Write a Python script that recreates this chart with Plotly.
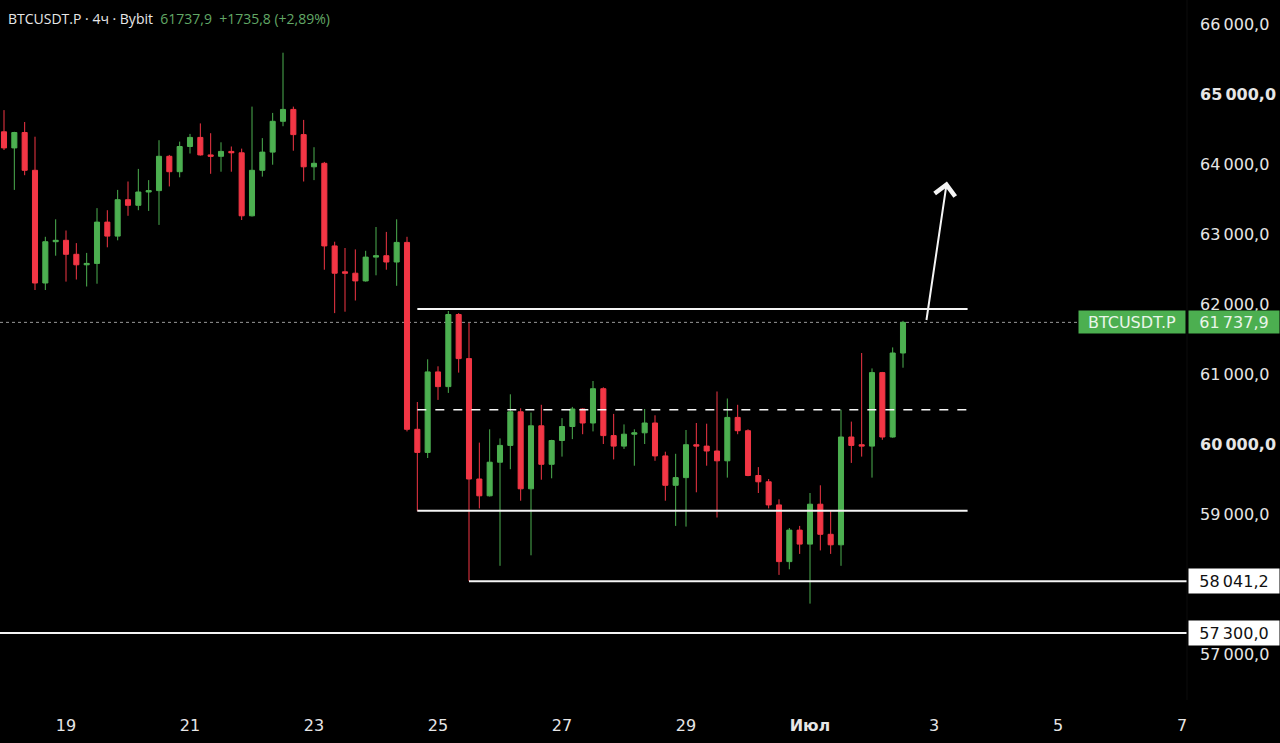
import datetime
import pandas as pd
import plotly.graph_objects as go

# 4h candles, Bybit BTCUSDT.P
start_time = '2024-06-18 00:00'
opens = [64460, 64230, 64450, 63910, 62300, 62890, 62910, 62710, 62560, 62580,
         63170, 62970, 63490, 63410, 63600, 63620, 64110, 63890, 64250, 64380,
         64130, 64110, 64180, 64160, 63260, 63910, 64170, 64610, 64780, 64420,
         63960, 64010, 62830, 62460, 62440, 62330, 62670, 62690, 62600, 62880,
         60210, 59880, 61030, 60820, 61850, 61220, 59500, 59260, 59740, 59980,
         60460, 59360, 60260, 59710, 60050, 60250, 60500, 60300, 60790, 60120,
         59970, 60140, 60160, 60300, 59830, 59410, 59520, 59990, 59970, 59900,
         59760, 60380, 60190, 59550, 59460, 59130, 58320, 58770, 58570, 59140,
         58710, 58560, 60100, 59990, 59970, 61020, 60100, 61300]
highs = [64770, 64460, 64600, 64390, 62960, 63210, 63050, 62870, 62730, 63370,
         63340, 63630, 63750, 63930, 63770, 64340, 64130, 64320, 64430, 64580,
         64440, 64310, 64250, 64220, 64820, 64370, 64730, 65590, 64820, 64630,
         64240, 64030, 62890, 62800, 62780, 62760, 63100, 63030, 63210, 62960,
         60600, 61210, 61110, 61900, 61870, 61730, 60020, 60210, 60080, 60710,
         60510, 60450, 60560, 60060, 60370, 60530, 60510, 60900, 60810, 60430,
         60280, 60210, 60500, 60410, 59890, 59860, 60200, 60300, 60290, 60750,
         60650, 60560, 60210, 59670, 59500, 59210, 58800, 58830, 59300, 59410,
         59050, 60490, 60320, 61300, 61080, 61030, 61380, 61760]
lows = [64200, 63630, 63840, 62200, 62200, 62690, 62320, 62350, 62250, 62290,
        62810, 62910, 63260, 63340, 63330, 63130, 63680, 63810, 64150, 64120,
        63860, 63890, 63890, 63200, 63250, 63820, 63990, 64540, 64190, 63750,
        63770, 62490, 61870, 61890, 62050, 62320, 62410, 62490, 62260, 60180,
        59040, 59800, 60630, 60730, 61020, 58041.2, 59080, 59250, 58260, 59640,
        59190, 58410, 59490, 59510, 59820, 60070, 60140, 60180, 60000, 59780,
        59930, 59690, 60000, 59760, 59190, 58830, 58820, 59310, 59690, 58950,
        59520, 60140, 59540, 59300, 59080, 58130, 58210, 58430, 57720, 58480,
        58430, 58260, 59730, 59820, 59520, 60060, 60090, 61090]
closes = [64230, 64450, 63910, 62300, 62890, 62910, 62710, 62560, 62580, 63170,
          62970, 63490, 63410, 63600, 63620, 64110, 63890, 64250, 64380, 64130,
          64110, 64180, 64160, 63260, 63910, 64170, 64610, 64780, 64420, 63960,
          64010, 62830, 62440, 62440, 62330, 62670, 62690, 62600, 62880, 60210,
          59880, 61030, 60820, 61850, 61220, 59500, 59260, 59740, 59980, 60460,
          59360, 60260, 59710, 60050, 60250, 60500, 60300, 60790, 60120, 59970,
          60140, 60160, 60300, 59830, 59410, 59520, 59990, 59970, 59900, 59760,
          60380, 60190, 59550, 59460, 59130, 58320, 58770, 58570, 59140, 58710,
          58560, 60100, 59980, 59970, 61020, 60100, 61300, 61737.9]

last_price = 61737.9

# drawn levels
range_top = 61930
range_mid = 60490
range_bottom = 59045
sweep_low = 58041.2
support = 57300
range_start = '2024-06-24 16:00'
range_end = '2024-07-03 13:00'
sweep_start = '2024-06-25 12:00'
arrow_tail = ('2024-07-02 21:00', 61750)
arrow_head = ('2024-07-03 05:00', 63750)

# 58000 sits under the 58041,2 label, so it isn't drawn
price_ticks = [57000, 59000, 60000, 61000, 62000, 63000, 64000, 65000, 66000]
bold_ticks = [60000, 65000]
date_ticks = ['2024-06-19', '2024-06-21', '2024-06-23', '2024-06-25', '2024-06-27',
              '2024-06-29', '2024-07-01', '2024-07-03', '2024-07-05', '2024-07-07']
date_labels = ['19', '21', '23', '25', '27', '29', '<b>Июл</b>', '3', '5', '7']

UP = '#4CAF50'
DOWN = '#F23645'
FONT = 'Open Sans'
AXIS_FONT = 'DejaVu Sans'


def fmt_price(v):
    s = f'{v:,.1f}'.replace(',', '\u2009').replace('.', ',')
    return s


times = pd.date_range(start_time, periods=len(opens), freq='4h')

x_min = datetime.datetime(2024, 6, 19) - datetime.timedelta(days=66 / 62)
x_max = datetime.datetime(2024, 6, 19) + datetime.timedelta(days=1121 / 62)
y_min, y_max = 56343, 66343

fig = go.Figure()
fig.add_trace(go.Candlestick(
    x=times, open=opens, high=highs, low=lows, close=closes,
    increasing=dict(line=dict(color=UP, width=1), fillcolor=UP),
    decreasing=dict(line=dict(color=DOWN, width=1), fillcolor=DOWN),
    whiskerwidth=0, showlegend=False, hoverinfo='skip',
))

white = '#f5f5f5'
shapes = [
    dict(type='line', xref='x', yref='y', x0=x_min, x1=x_max, y0=last_price, y1=last_price,
         line=dict(color='rgba(190,190,190,0.8)', width=1, dash='dot'), layer='below'),
    dict(type='line', xref='x', yref='y', x0=range_start, x1=range_end, y0=range_top, y1=range_top,
         line=dict(color=white, width=2)),
    dict(type='line', xref='x', yref='y', x0=range_start, x1=range_end, y0=range_mid, y1=range_mid,
         line=dict(color=white, width=1.5, dash='dash')),
    dict(type='line', xref='x', yref='y', x0=range_start, x1=range_end, y0=range_bottom, y1=range_bottom,
         line=dict(color=white, width=2)),
    dict(type='line', xref='x', yref='y', x0=sweep_start, x1=x_max, y0=sweep_low, y1=sweep_low,
         line=dict(color=white, width=2)),
    dict(type='line', xref='x', yref='y', x0=x_min, x1=x_max, y0=support, y1=support,
         line=dict(color=white, width=2)),
    dict(type='line', xref='paper', yref='paper', x0=1, x1=1, y0=0, y1=1,
         line=dict(color='#0c0c0c', width=1)),
]

annotations = [
    dict(xref='paper', yref='paper', x=0, y=1, xanchor='left', yanchor='top', xshift=6, yshift=-7,
         showarrow=False, align='left',
         text='BTCUSDT.P · 4ч · Bybit\u00a0\u00a0<span style="color:#62a866">61737,9\u00a0\u00a0+1735,8 (+2,89%)</span>',
         font=dict(size=14, color='#e8e8e8', family=FONT)),
    dict(x=arrow_head[0], y=arrow_head[1], ax=arrow_tail[0], ay=arrow_tail[1],
         xref='x', yref='y', axref='x', ayref='y', showarrow=True, text='',
         arrowhead=4, arrowsize=2, arrowwidth=2, arrowcolor=white),
    dict(xref='paper', yref='y', x=1, y=last_price, xanchor='left', yanchor='middle', xshift=1,
         showarrow=False, text=fmt_price(last_price), bgcolor=UP, width=86, height=18,
         borderpad=2, align='center', font=dict(size=16, color='#e9f5e9', family=AXIS_FONT)),
    dict(xref='paper', yref='y', x=1, y=last_price, xanchor='right', yanchor='middle', xshift=-1,
         showarrow=False, text='BTCUSDT.P', bgcolor=UP, width=102, height=18,
         borderpad=2, align='center', font=dict(size=16, color='#e9f5e9', family=AXIS_FONT)),
    dict(xref='paper', yref='y', x=1, y=sweep_low, xanchor='left', yanchor='middle', xshift=1,
         showarrow=False, text=fmt_price(sweep_low), bgcolor='#ffffff', width=86, height=20,
         borderpad=2, align='center', font=dict(size=16, color='#111111', family=AXIS_FONT)),
    dict(xref='paper', yref='y', x=1, y=support, xanchor='left', yanchor='middle', xshift=1,
         showarrow=False, text=fmt_price(support), bgcolor='#ffffff', width=86, height=20,
         borderpad=2, align='center', font=dict(size=16, color='#111111', family=AXIS_FONT)),
]

tick_text = [f'<b>{fmt_price(v)}</b>' if v in bold_ticks else fmt_price(v) for v in price_ticks]

fig.update_layout(
    width=1280, height=743,
    margin=dict(l=0, r=93, t=0, b=43),
    paper_bgcolor='#000000', plot_bgcolor='#000000',
    font=dict(family=FONT, color='#e6e6e6'),
    shapes=shapes, annotations=annotations,
    xaxis=dict(type='date', range=[x_min, x_max], rangeslider=dict(visible=False),
               showgrid=False, zeroline=False, showline=False,
               tickvals=date_ticks, ticktext=date_labels, ticks='',
               ticklabelstandoff=14, tickfont=dict(size=16, color='#e6e6e6', family=AXIS_FONT)),
    yaxis=dict(side='right', range=[y_min, y_max], showgrid=False, zeroline=False,
               tickvals=price_ticks, ticktext=tick_text, ticks='',
               ticklabelstandoff=12, tickfont=dict(size=16, color='#e6e6e6', family=AXIS_FONT)),
    hovermode=False,
)

fig.write_html('out.html', config={'displayModeBar': False},
               post_script="document.body.style.margin='0';document.body.style.background='#000';")
